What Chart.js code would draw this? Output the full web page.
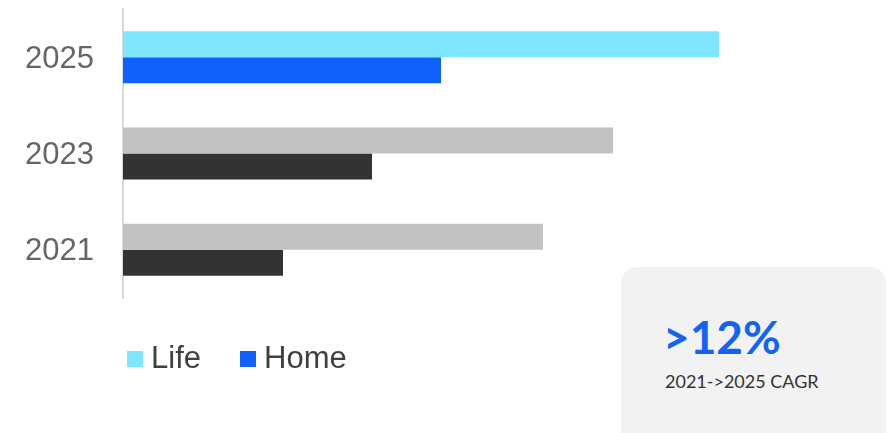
<!DOCTYPE html>
<html>
<head>
<meta charset="utf-8">
<script src="https://cdn.jsdelivr.net/npm/chart.js@4/dist/chart.umd.min.js"></script>
<style>
  html, body { margin: 0; padding: 0; background: #ffffff; }
  #wrap { position: relative; width: 889px; height: 433px; overflow: hidden; }
  #c { position: absolute; left: 0; top: 0; }
  .lg-box { position: absolute; width: 16px; height: 16px; top: 351px; }
  .lg-txt { position: absolute; top: 342px; font-family: "Liberation Sans", Arial, sans-serif; font-size: 31px; line-height: 31px; color: #404040; white-space: nowrap; }
  #card { position: absolute; left: 621px; top: 267px; width: 265px; height: 190px; background: #f2f2f2; border-radius: 16px; }
  #big { position: absolute; left: 42px; top: 47px; font-family: Lato, "Open Sans", sans-serif; font-weight: 700; font-size: 46px; line-height: 46px; color: #1363f6; white-space: nowrap; }
  #sub { position: absolute; left: 44px; top: 105px; font-family: Lato, "Open Sans", sans-serif; font-size: 18px; line-height: 18px; color: #333333; white-space: nowrap; }
</style>
</head>
<body>
<div id="wrap">
  <canvas id="c" width="889" height="433"></canvas>
  <div id="legend"></div>
  <div id="card"><div id="big"></div><div id="sub"></div></div>
</div>
<script>
// ---- data ----
const categories = ['2025', '2023', '2021'];
const seriesNames = ['Life', 'Home'];
const lifeValues = [596, 490, 420];
const homeValues = [318, 249, 160];
const lifeColors = ['#7fe6ff', '#c2c2c2', '#c2c2c2'];
const homeColors = ['#0f62fe', '#333333', '#333333'];
const legendColors = ['#7fe6ff', '#0f62fe'];
const cardValue = '>12%';
const cardLabel = '2021->2025 CAGR';

// ---- card ----
document.getElementById('big').textContent = cardValue;
document.getElementById('sub').textContent = cardLabel;

// ---- legend (HTML) ----
const legendPos = [{box: 127, txt: 151}, {box: 240, txt: 264}];
const legendEl = document.getElementById('legend');
seriesNames.forEach((name, i) => {
  const b = document.createElement('div');
  b.className = 'lg-box';
  b.style.left = legendPos[i].box + 'px';
  b.style.background = legendColors[i];
  legendEl.appendChild(b);
  const t = document.createElement('div');
  t.className = 'lg-txt';
  t.style.left = legendPos[i].txt + 'px';
  t.textContent = name;
  legendEl.appendChild(t);
});

// ---- chart ----
new Chart(document.getElementById('c'), {
  type: 'bar',
  data: {
    labels: categories,
    datasets: [
      { label: seriesNames[0], data: lifeValues, backgroundColor: lifeColors, borderWidth: 0,
        categoryPercentage: 52 / 96.33, barPercentage: 1.0 },
      { label: seriesNames[1], data: homeValues, backgroundColor: homeColors, borderWidth: 0,
        categoryPercentage: 52 / 96.33, barPercentage: 1.0 }
    ]
  },
  options: {
    indexAxis: 'y',
    responsive: false,
    animation: false,
    events: [],
    layout: { padding: { left: 0, top: 9, right: 66, bottom: 135 } },
    plugins: { legend: { display: false }, tooltip: { enabled: false } },
    scales: {
      x: { display: false, min: 0, max: 700 },
      y: {
        grid: { display: false, drawTicks: false },
        border: { display: true, color: '#d9d9d9', width: 2 },
        ticks: {
          padding: 29,
          labelOffset: 2,
          color: '#666666',
          font: { family: '"Liberation Sans", Arial, sans-serif', size: 31 }
        },
        afterFit: (scale) => { scale.width = 123; scale.paddingTop = 0; scale.paddingBottom = 0; }
      }
    }
  }
});
</script>
</body>
</html>
